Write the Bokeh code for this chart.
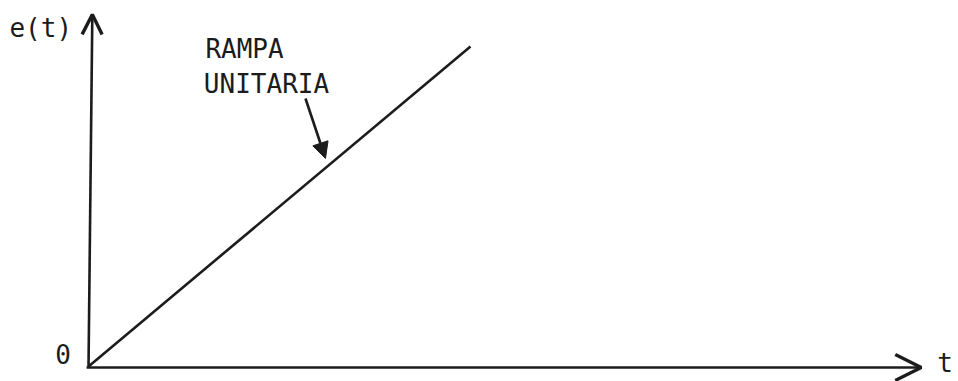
from bokeh.plotting import figure
from bokeh.models import Range1d, Arrow, OpenHead, NormalHead, Label
from bokeh.embed import file_html
from bokeh.resources import INLINE

# --- data: unit ramp e(t) = t ---
t_ramp = [0, 10]
e_ramp = [0, 10]
t_axis_max = 21.8
e_axis_max = 11.0
axis_labels = {"y": "e(t)", "x": "t", "origin": "0"}
ramp_label = ["RAMPA", "UNITARIA"]

INK = "#1c1c1c"
FONT = "DejaVu Sans Mono"

p = figure(width=958, height=381, output_backend="svg", toolbar_location=None,
           x_range=Range1d(-2.304, 22.775), y_range=Range1d(-0.469, 11.4375),
           min_border=0, outline_line_color=None, background_fill_color="white",
           border_fill_color="white")
p.xaxis.visible = False
p.yaxis.visible = False
p.xgrid.grid_line_color = None
p.ygrid.grid_line_color = None

# ramp line
p.line(t_ramp, e_ramp, line_color=INK, line_width=2.6)

# axes with arrowheads
p.add_layout(Arrow(x_start=0, y_start=-0.03, x_end=0.1, y_end=e_axis_max,
                   line_color=INK, line_width=2.6,
                   end=OpenHead(size=20, line_width=3.4, line_color=INK)))
p.add_layout(Arrow(x_start=-0.05, y_start=-0.03, x_end=t_axis_max, y_end=-0.03,
                   line_color=INK, line_width=2.6,
                   end=OpenHead(size=26, line_width=3.4, line_color=INK)))

# pointer arrow to the ramp
p.add_layout(Arrow(x_start=5.68, y_start=8.375, x_end=6.204, y_end=6.5,
                   line_color=INK, line_width=2.6,
                   end=NormalHead(size=16, fill_color=INK, line_color=INK)))

def lab(text, x, y, **kw):
    p.add_layout(Label(x=x, y=y, text=text, text_font=FONT, text_font_size="26px",
                       text_color=INK, text_baseline="alphabetic", **kw))

lab(axis_labels["y"], -2.07, 10.58)
lab(axis_labels["origin"], -0.87, 0.40)
lab(axis_labels["x"], 22.22, 0.10)
lab(ramp_label[0], 3.06, 9.93)
lab(ramp_label[1], 3.02, 8.84)

open("out.html", "w").write(file_html(p, INLINE))
